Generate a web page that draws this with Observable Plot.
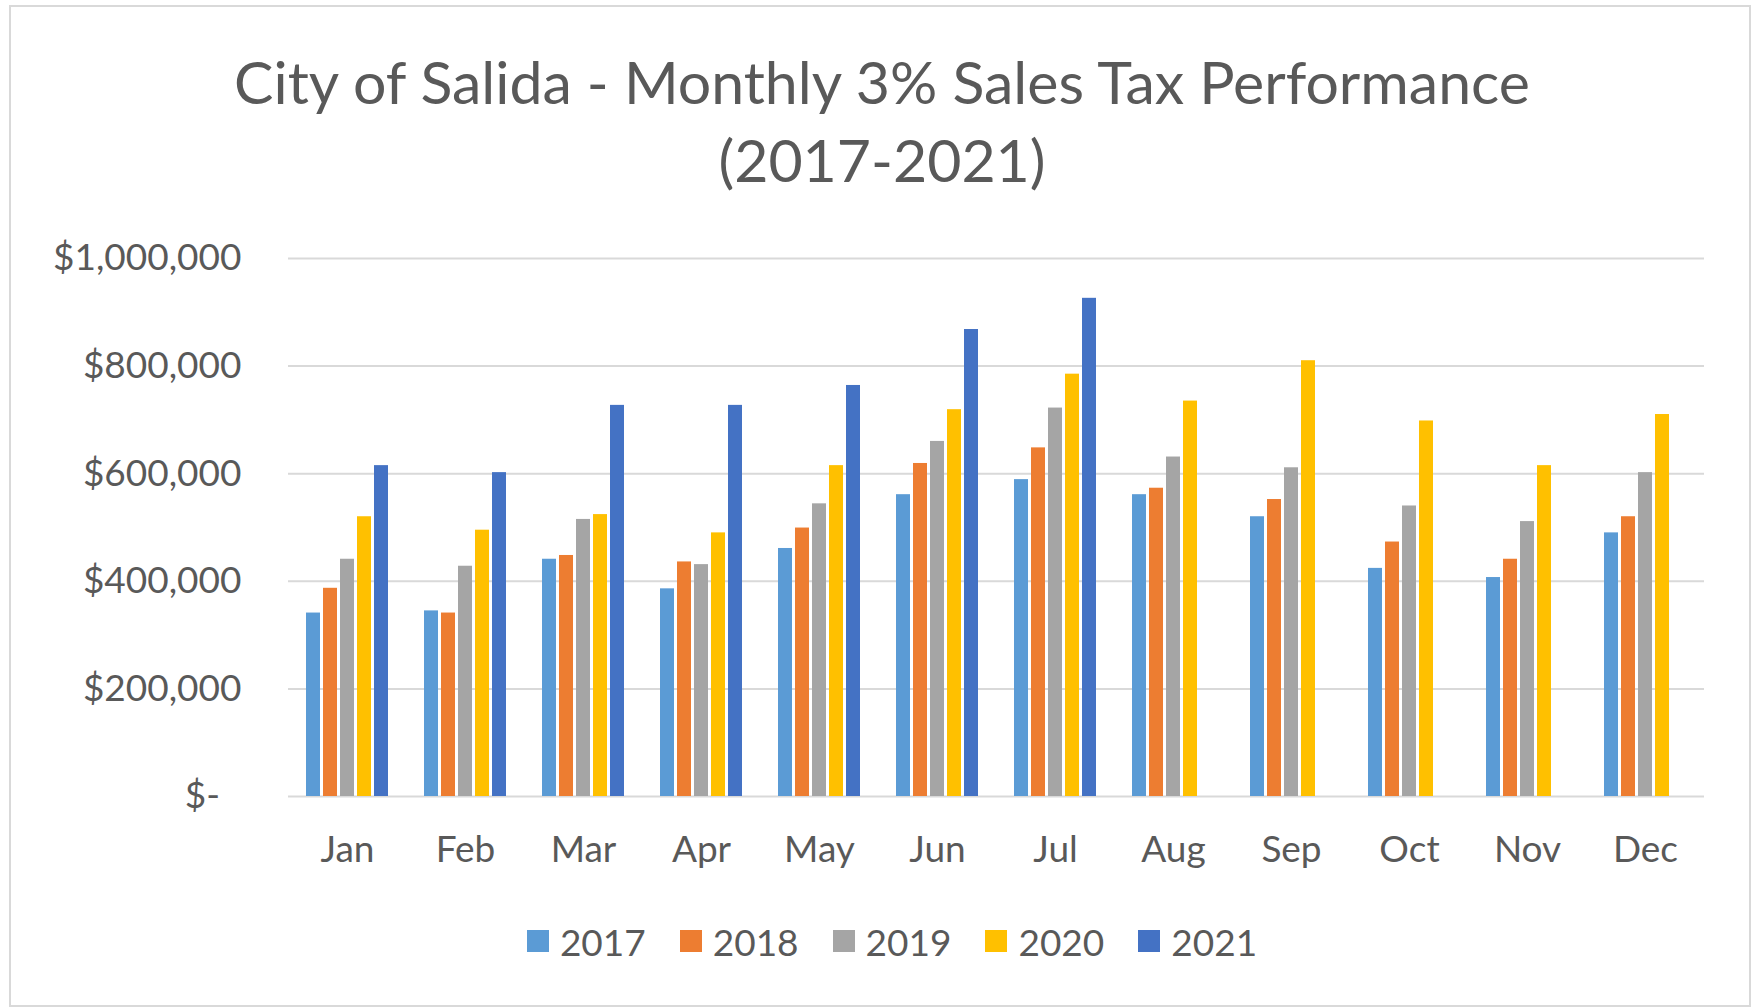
<!DOCTYPE html>
<html>
<head>
<meta charset="utf-8">
<script src="https://cdn.jsdelivr.net/npm/d3@7"></script>
<script src="https://cdn.jsdelivr.net/npm/@observablehq/plot@0.6"></script>
<style>
  html, body { margin: 0; padding: 0; background: #fff; }
  body { width: 1756px; height: 1007px; position: relative; overflow: hidden;
         font-family: Lato, "Open Sans", sans-serif; color: #595959; }
  #frame { position: absolute; left: 9px; top: 5px; width: 1742px; height: 1002px;
           border: 2px solid #d9d9d9; box-sizing: border-box; }
  #title { position: absolute; left: 4px; top: 43px; width: 1756px; text-align: center;
           font-size: 59px; line-height: 78px; color: #595959; }
  #chart { position: absolute; left: 0; top: 200px; }
  #legend { position: absolute; left: 14px; top: 919px; width: 1756px; height: 44px;
            display: flex; justify-content: center; align-items: center; }
  .item { display: flex; align-items: center; margin: 0 17px; font-size: 37px; color: #595959; }
  .sw { width: 22px; height: 22px; margin-right: 11px; }
</style>
</head>
<body>
<div id="frame"></div>
<div id="title">City of Salida - Monthly 3% Sales Tax Performance<br>(2017-2021)</div>
<div id="chart"></div>
<div id="legend"></div>
<script>
const months = ["Jan","Feb","Mar","Apr","May","Jun","Jul","Aug","Sep","Oct","Nov","Dec"];
const years = ["2017","2018","2019","2020","2021"];
const colors = ["#5B9BD5","#ED7D31","#A5A5A5","#FFC000","#4472C4"];
const v2017 = [341000,345000,441000,386000,461000,561000,589000,561000,520000,424000,407000,490000];
const v2018 = [387000,341000,448000,436000,499000,619000,648000,573000,552000,473000,441000,520000];
const v2019 = [441000,428000,515000,431000,544000,660000,722000,631000,611000,540000,511000,602000];
const v2020 = [520000,495000,524000,490000,615000,719000,785000,735000,810000,698000,615000,710000];
const v2021 = [615000,602000,727000,727000,764000,868000,926000];
const yTicks = [0,200000,400000,600000,800000,1000000];

const series = [v2017, v2018, v2019, v2020, v2021];
const data = [];
series.forEach((vals, i) => vals.forEach((v, j) => data.push({month: months[j], year: years[i], value: v})));

const fmt = d => d === 0 ? "$-\u2007" : "$" + d3.format(",")(d);

const chart = Plot.plot({
  width: 1756,
  height: 696,
  marginLeft: 286,
  marginRight: 50,
  marginTop: 58,
  marginBottom: 100,
  style: {fontFamily: "Lato, 'Open Sans', sans-serif", fontSize: "37px", color: "#595959", background: "transparent"},
  fx: {domain: months, padding: 0, label: null, axis: "bottom", tickSize: 0, tickPadding: 39},
  x: {domain: years, axis: null, paddingInner: 0.18, paddingOuter: 0.95},
  y: {domain: [0, 1000000], ticks: yTicks, tickFormat: fmt, label: null, tickSize: 0, tickPadding: 47},
  color: {domain: years, range: colors},
  marks: [
    Plot.ruleY(yTicks, {stroke: "#d9d9d9", strokeWidth: 2}),
    Plot.barY(data, {fx: "month", x: "year", y: "value", fill: "year"})
  ]
});
document.getElementById("chart").appendChild(chart);

const legend = document.getElementById("legend");
years.forEach((y, i) => {
  const it = document.createElement("div");
  it.className = "item";
  const sw = document.createElement("div");
  sw.className = "sw";
  sw.style.background = colors[i];
  it.appendChild(sw);
  it.appendChild(document.createTextNode(y));
  legend.appendChild(it);
});
</script>
</body>
</html>
